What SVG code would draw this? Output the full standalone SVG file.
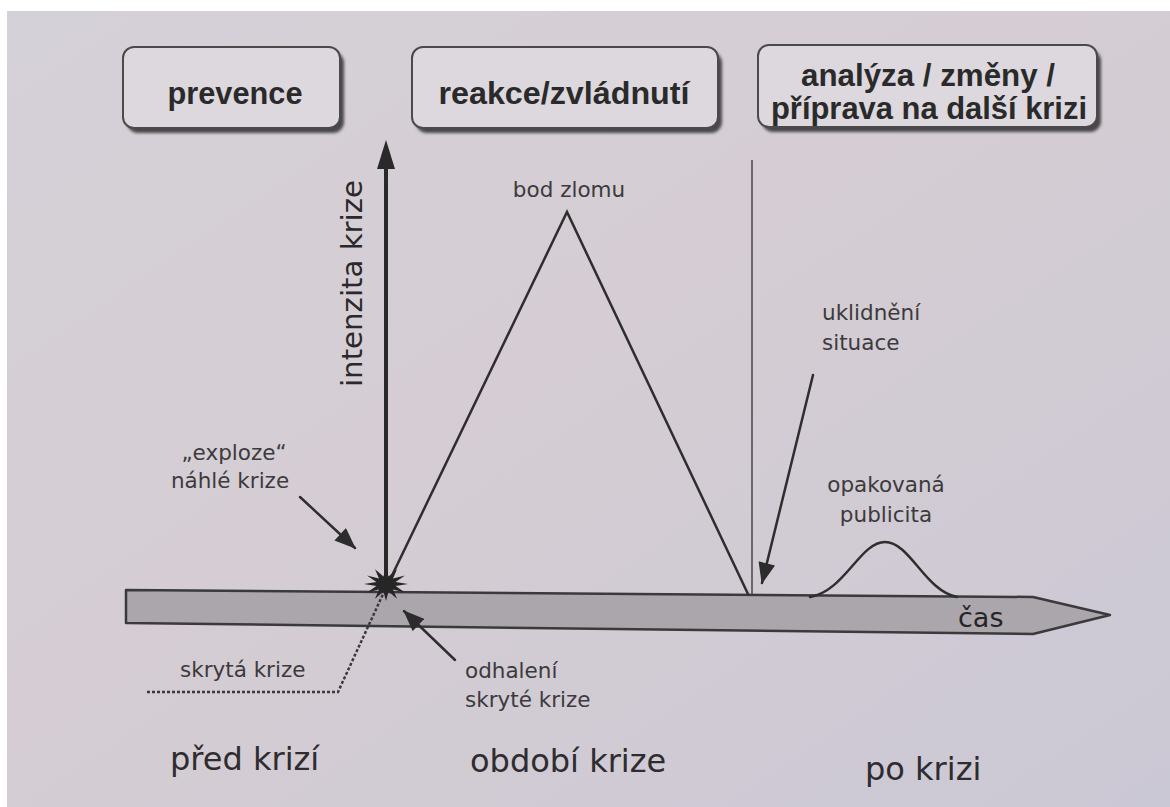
<svg xmlns="http://www.w3.org/2000/svg" width="1170" height="807" viewBox="0 0 1170 807">
<defs>
<linearGradient id="bg" x1="0" y1="0" x2="1" y2="1">
<stop offset="0" stop-color="#d5d1d8"/>
<stop offset="0.45" stop-color="#d5cdd3"/>
<stop offset="1" stop-color="#cbc8d5"/>
</linearGradient>
<filter id="blur" x="-10%" y="-10%" width="130%" height="140%"><feGaussianBlur stdDeviation="1.5"/></filter>
<marker id="ah" viewBox="0 0 20 16" refX="19" refY="8" markerWidth="22" markerHeight="17" markerUnits="userSpaceOnUse" orient="auto">
<path d="M0,0 L20,8 L0,16 Z" fill="#2c2c2c"/>
</marker>
<style>
.box{fill:#ddd8de;stroke:#4a4a4a;stroke-width:2}
.shadow{fill:#4a4648;filter:url(#blur)}
.bt{font-family:"Liberation Sans",Arial,sans-serif;font-weight:bold;font-size:31px;fill:#2a2a2a;text-anchor:middle}
.lb{font-family:"DejaVu Sans","Liberation Sans",sans-serif;font-size:21.5px;fill:#3c3a3c}
.big{font-family:"DejaVu Sans","Liberation Sans",sans-serif;font-size:32px;fill:#2e2c2e}
.ln{fill:none;stroke:#2e2e2e;stroke-width:2.5;stroke-linecap:round}
</style>
</defs>
<rect width="1170" height="807" fill="#ffffff"/>
<rect x="7" y="11" width="1163" height="796" fill="url(#bg)"/>

<g id="box-prevence">
<rect class="shadow" x="127" y="52" width="217" height="81" rx="11"/>
<rect class="box" x="123" y="47" width="217" height="81" rx="11"/>
<text class="bt" x="235" y="104" textLength="135" lengthAdjust="spacingAndGlyphs">prevence</text>
</g>
<g id="box-reakce">
<rect class="shadow" x="416" y="52" width="306" height="81" rx="11"/>
<rect class="box" x="412" y="47" width="306" height="81" rx="11"/>
<text class="bt" x="564" y="104" textLength="251" lengthAdjust="spacingAndGlyphs">reakce/zvládnutí</text>
</g>
<g id="box-analyza">
<rect class="shadow" x="762" y="50" width="339" height="82" rx="11"/>
<rect class="box" x="758" y="45" width="339" height="82" rx="11"/>
<text class="bt" x="928" y="86" textLength="254" lengthAdjust="spacingAndGlyphs">analýza / změny /</text>
<text class="bt" x="929" y="119" textLength="316" lengthAdjust="spacingAndGlyphs">příprava na další krizi</text>
</g>

<g id="time-bar">
<polygon points="126,590 1033,597 1110,615 1033,634 126,623" fill="#aaa6ac" stroke="#3a3a3a" stroke-width="2.5" stroke-linejoin="round"/>
<text x="958" y="627" font-family="DejaVu Sans, Liberation Sans, sans-serif" font-size="27" fill="#262426">čas</text>
</g>

<g id="connectors">
<line x1="386" y1="590" x2="386" y2="165" stroke="#2a2a2a" stroke-width="4"/>
<polygon points="386,140 377,169 395,169" fill="#2a2a2a"/>
<polyline class="ln" points="386,588 567,212 748,594"/>
<line x1="752" y1="160" x2="752" y2="594" stroke="#4e4e4e" stroke-width="1.6"/>
<path class="ln" d="M810,597 C845,591 860,542 885,542 C910,542 925,591 957,597"/>
<path d="M147,692 L338,692 L384,592" fill="none" stroke="#3a3a3a" stroke-width="2.5" stroke-dasharray="3,2"/>
<line class="ln" x1="813" y1="375" x2="762" y2="583" marker-end="url(#ah)"/>
<line class="ln" x1="300" y1="497" x2="355" y2="548" marker-end="url(#ah)"/>
<line class="ln" x1="455" y1="660" x2="404" y2="611" marker-end="url(#ah)"/>
</g>

<g id="explosion">
<polygon transform="translate(386,584) scale(1.1,0.85)" fill="#262626" points="20,0 8.7,2.3 17.3,10 6.4,6.4 10,17.3 2.3,8.7 0,20 -2.3,8.7 -10,17.3 -6.4,6.4 -17.3,10 -8.7,2.3 -20,0 -8.7,-2.3 -17.3,-10 -6.4,-6.4 -10,-17.3 -2.3,-8.7 0,-20 2.3,-8.7 10,-17.3 6.4,-6.4 17.3,-10 8.7,-2.3"/>
</g>

<g id="axis-label">
<text transform="translate(362,387) rotate(-90)" font-family="DejaVu Sans, Liberation Sans, sans-serif" font-size="29" fill="#2a282a" textLength="207" lengthAdjust="spacingAndGlyphs">intenzita krize</text>
</g>
<g id="label-bod-zlomu"><text class="lb" x="569" y="197" text-anchor="middle">bod zlomu</text></g>
<g id="label-uklidneni">
<text class="lb" x="822" y="320">uklidnění</text>
<text class="lb" x="822" y="350">situace</text>
</g>
<g id="label-publicita">
<text class="lb" x="886" y="492" text-anchor="middle">opakovaná</text>
<text class="lb" x="886" y="522" text-anchor="middle">publicita</text>
</g>
<g id="label-exploze">
<text class="lb" x="234" y="460" text-anchor="middle">„exploze“</text>
<text class="lb" x="230" y="488" text-anchor="middle">náhlé krize</text>
</g>
<g id="label-skryta"><text class="lb" x="180" y="677">skrytá krize</text></g>
<g id="label-odhaleni">
<text class="lb" x="465" y="678">odhalení</text>
<text class="lb" x="465" y="707">skryté krize</text>
</g>
<g id="phase-labels">
<text class="big" x="170" y="770">před krizí</text>
<text class="big" x="470" y="772">období krize</text>
<text class="big" x="865" y="780">po krizi</text>
</g>
</svg>
